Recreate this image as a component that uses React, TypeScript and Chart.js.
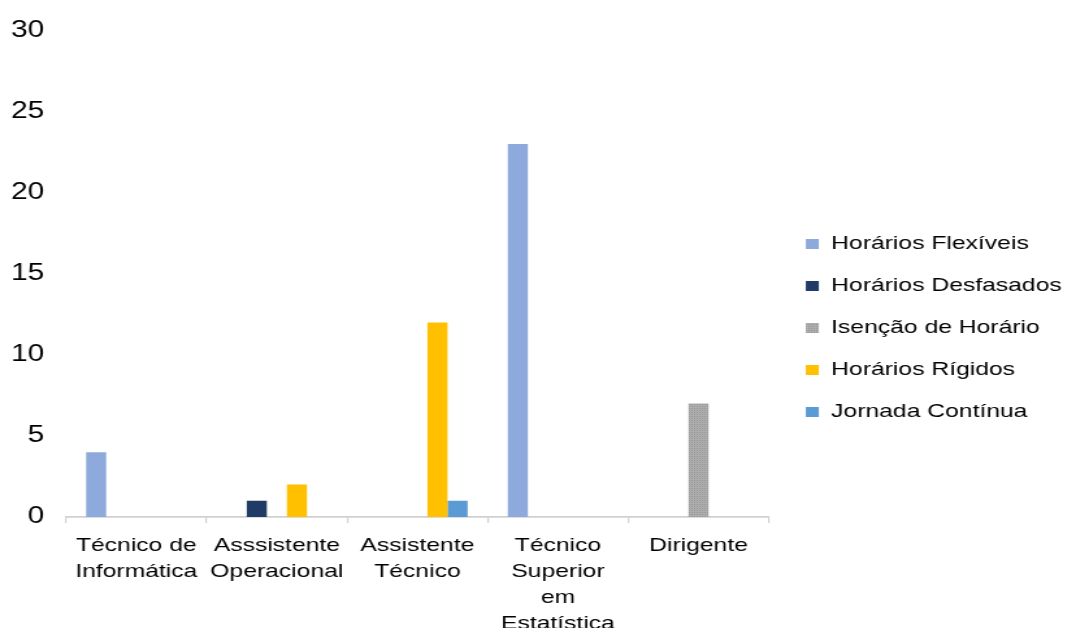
import React, { useEffect, useRef } from "react";
import { Chart, registerables } from "chart.js";

Chart.register(...registerables);

// ---- data ----
const categories: string[][] = [
  ["Técnico de", "Informática"],
  ["Asssistente", "Operacional"],
  ["Assistente", "Técnico"],
  ["Técnico", "Superior", "em", "Estatística"],
  ["Dirigente"],
];
const seriesNames = [
  "Horários Flexíveis",
  "Horários Desfasados",
  "Isenção de Horário",
  "Horários Rígidos",
  "Jornada Contínua",
];
const flexiveis = [4, 0, 0, 23, 0];
const desfasados = [0, 1, 0, 0, 0];
const isencao = [0, 0, 0, 0, 7];
const rigidos = [0, 2, 12, 0, 0];
const jornada = [0, 0, 1, 0, 0];
const yTicks = [0, 5, 10, 15, 20, 25, 30];

const FONT = "'Liberation Sans', Arial, sans-serif";
// logical canvas size; displayed stretched horizontally to 1076px
const LOGICAL_W = 828;
const LOGICAL_H = 633;

function grayPattern(ctx: CanvasRenderingContext2D): CanvasPattern | string {
  const c = document.createElement("canvas");
  c.width = 2;
  c.height = 2;
  const g = c.getContext("2d");
  if (!g) return "#A6A6A6";
  g.fillStyle = "#ADADAD";
  g.fillRect(0, 0, 2, 2);
  g.fillStyle = "#979797";
  g.fillRect(0, 0, 1, 1);
  return ctx.createPattern(c, "repeat") || "#A6A6A6";
}

export default function App() {
  const ref = useRef<HTMLCanvasElement | null>(null);

  useEffect(() => {
    const canvas = ref.current;
    if (!canvas) return;
    const ctx = canvas.getContext("2d");
    if (!ctx) return;
    const pattern = grayPattern(ctx);
    const seriesValues = [flexiveis, desfasados, isencao, rigidos, jornada];
    const colors: any[] = ["#8EA9DB", "#1F3B66", pattern, "#FFC000", "#5B9BD5"];

    const chart = new Chart(ctx, {
      type: "bar",
      data: {
        labels: categories,
        datasets: seriesNames.map((name, i) => ({
          label: name,
          data: seriesValues[i],
          backgroundColor: colors[i],
          borderWidth: 0,
          categoryPercentage: 0.714,
          barPercentage: 1,
          yAxisID: "y",
        })),
      },
      options: {
        responsive: false,
        animation: false,
        devicePixelRatio: 1,
        layout: {
          autoPadding: false,
          padding: { left: 8.5, top: 28, right: 1, bottom: 5 },
        },
        plugins: {
          tooltip: { enabled: false },
          legend: {
            position: "right",
            align: "center",
            maxWidth: 300,
            labels: {
              boxWidth: 10,
              boxHeight: 10,
              padding: 23,
              color: "#000",
              font: { family: FONT, size: 19 },
            },
          },
        },
        scales: {
          x: {
            grid: {
              display: true,
              drawOnChartArea: false,
              drawTicks: true,
              tickLength: 6,
              color: "#D0D0D0",
              lineWidth: 1.2,
            },
            border: { display: true, color: "#D0D0D0", width: 1.8 },
            ticks: {
              color: "#000",
              padding: 10,
              maxRotation: 0,
              autoSkip: false,
              font: { family: FONT, size: 19, lineHeight: 26 / 19 },
            },
            afterFit: (s: any) => {
              s.height = LOGICAL_H - 5 - 517;
              s.paddingLeft = 0;
              s.paddingRight = 0;
            },
          },
          y: {
            min: yTicks[0],
            max: yTicks[yTicks.length - 1],
            grid: { display: false, drawTicks: false },
            border: { display: false },
            ticks: {
              stepSize: yTicks[1] - yTicks[0],
              color: "#000",
              padding: 16.7,
              font: { family: FONT, size: 23 },
            },
            afterFit: (s: any) => {
              s.width = 42.3;
            },
          },
          y2: {
            type: "linear",
            position: "right",
            display: true,
            grid: { display: false, drawTicks: false },
            border: { display: false },
            ticks: { display: false },
            afterFit: (s: any) => {
              s.width = 5.5;
            },
          },
        },
      } as any,
    });

    return () => {
      chart.destroy();
    };
  }, []);

  return (
    <div
      style={{
        position: "fixed",
        left: 0,
        top: 0,
        width: 1076,
        height: 633,
        background: "#fff",
        overflow: "hidden",
      }}
    >
      <canvas
        ref={ref}
        width={LOGICAL_W}
        height={LOGICAL_H}
        style={{ width: "1076px", height: "633px", display: "block" }}
      />
    </div>
  );
}
